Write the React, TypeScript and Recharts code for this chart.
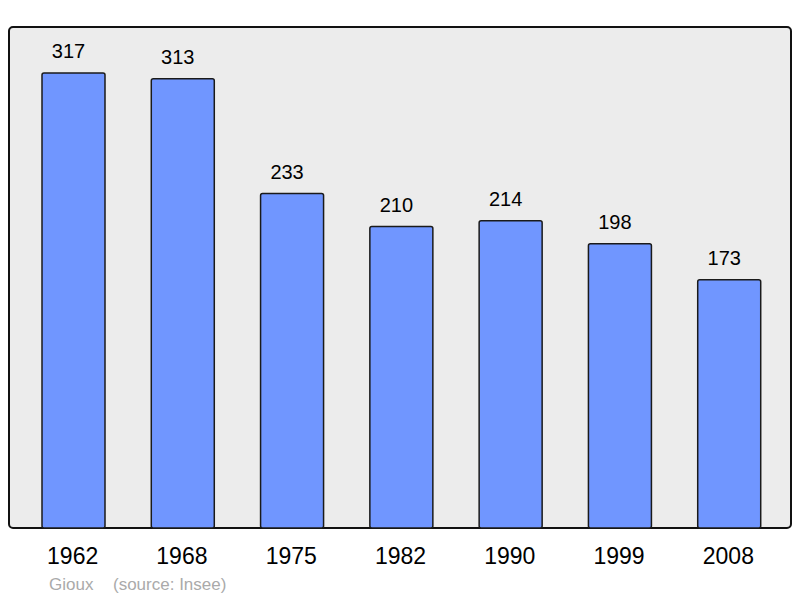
import React from 'react';
import { BarChart, Bar, XAxis, YAxis, ReferenceArea, LabelList } from 'recharts';

const years = ['1962', '1968', '1975', '1982', '1990', '1999', '2008'];
const population = [317, 313, 233, 210, 214, 198, 173];
const yMax = 349;
const commune = 'Gioux';
const source = '(source: Insee)';

const data = years.map((y, i) => ({ year: y, pop: population[i] }));

const FONT = '"Liberation Sans", Arial, sans-serif';
const PAD_L = 10;
const PAD_R = 7;

const renderTick = (props: any) => {
  const { x, y, payload } = props;
  return (
    <text x={x - 1} y={y + 28} textAnchor="middle" dominantBaseline="central" fontSize={23} fontFamily={FONT} fill="#000">
      {payload.value}
    </text>
  );
};

const renderLabel = (props: any) => {
  const { x, y, width, value } = props;
  return (
    <text x={x + width / 2 - 5} y={y - 22} textAnchor="middle" dominantBaseline="central" fontSize={20} fontFamily={FONT} fill="#000">
      {value}
    </text>
  );
};

const frameBg = (p: any) => (
  <rect x={p.x - PAD_L} y={p.y} width={p.width + PAD_L + PAD_R} height={p.height} rx={4} ry={4} fill="#ececec" stroke="#111" strokeWidth={2} />
);

export default function App() {
  return (
    <div style={{ position: 'absolute', left: 0, top: 0, width: 800, height: 598, background: '#fff' }}>
      <BarChart width={800} height={598} data={data} margin={{ top: 27, right: 9, bottom: 40, left: 9 }} barCategoryGap={0}>
        <XAxis
          dataKey="year"
          height={30}
          axisLine={false}
          tickLine={false}
          tickSize={0}
          tickMargin={0}
          interval={0}
          padding={{ left: PAD_L, right: PAD_R }}
          tick={renderTick}
        />
        <YAxis hide domain={[0, yMax]} />
        <ReferenceArea y1={0} y2={yMax} shape={frameBg} ifOverflow="visible" />
        <Bar dataKey="pop" fill="#7096ff" stroke="#1a1a1a" strokeWidth={1.5} radius={2} barSize={63} isAnimationActive={false}>
          <LabelList dataKey="pop" content={renderLabel} />
        </Bar>
      </BarChart>
      <svg width={800} height={598} style={{ position: 'absolute', left: 0, top: 0, pointerEvents: 'none' }}>
        <text x={49} y={584} dominantBaseline="central" fontSize={17} fontFamily={FONT} fill="#aaaaaa">{commune}</text>
        <text x={113} y={584} dominantBaseline="central" fontSize={17} fontFamily={FONT} fill="#aaaaaa">{source}</text>
      </svg>
    </div>
  );
}
